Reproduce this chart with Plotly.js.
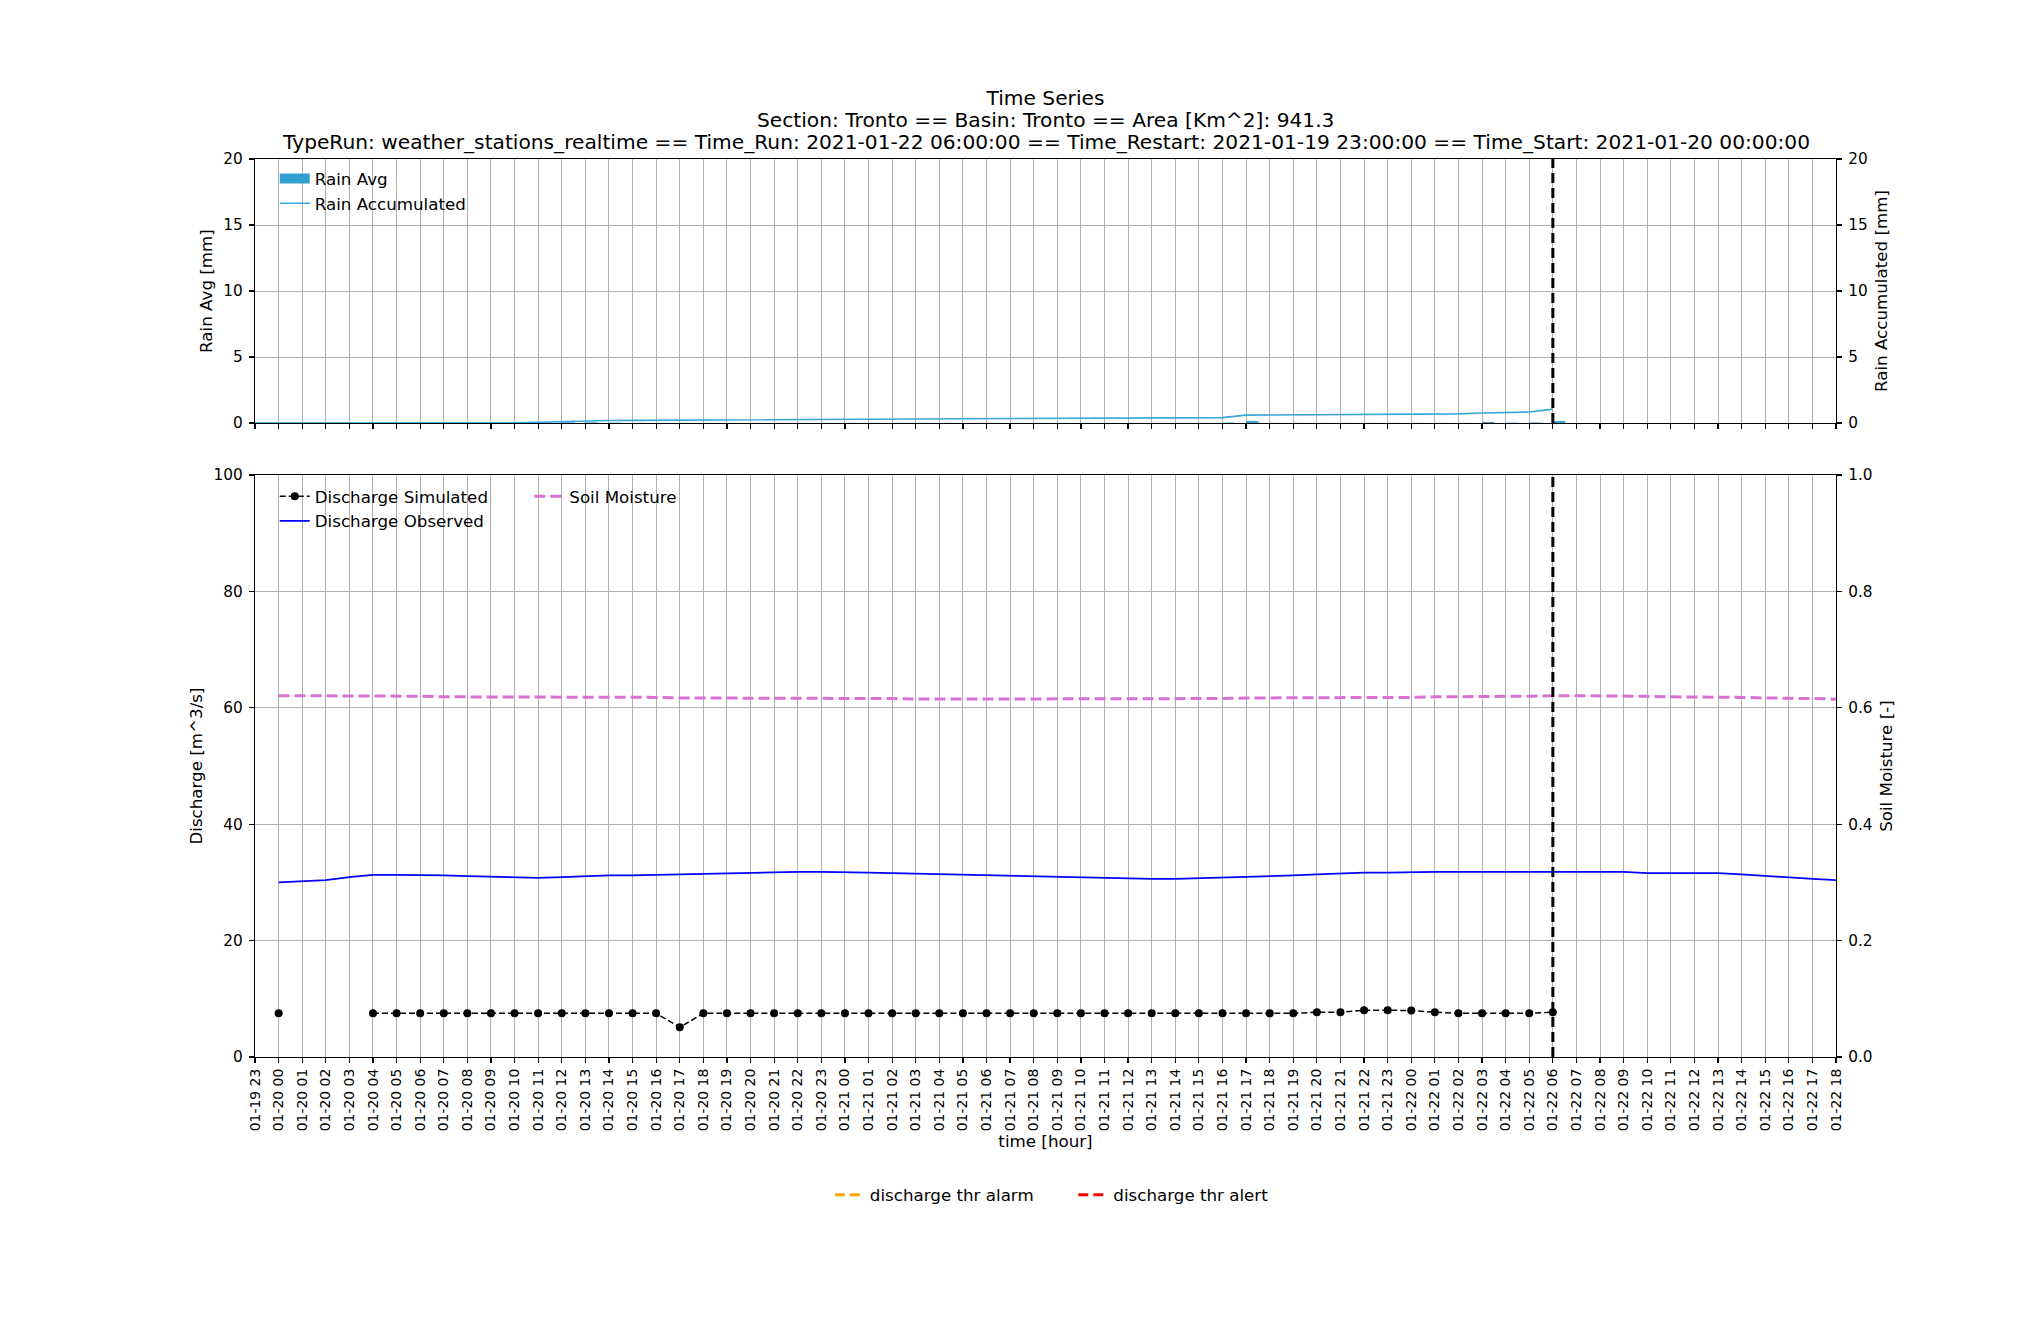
<!DOCTYPE html>
<html>
<head>
<meta charset="utf-8">
<script src="https://cdn.plot.ly/plotly-3.0.1.min.js"></script>
<style>html,body{margin:0;padding:0;background:#fff;}#chart{width:2040px;height:1320px;}</style>
</head>
<body>
<div id="chart"></div>
<script>
const times = [
 '2021-01-19 23:00',
 '2021-01-20 00:00','2021-01-20 01:00','2021-01-20 02:00','2021-01-20 03:00','2021-01-20 04:00','2021-01-20 05:00',
 '2021-01-20 06:00','2021-01-20 07:00','2021-01-20 08:00','2021-01-20 09:00','2021-01-20 10:00','2021-01-20 11:00',
 '2021-01-20 12:00','2021-01-20 13:00','2021-01-20 14:00','2021-01-20 15:00','2021-01-20 16:00','2021-01-20 17:00',
 '2021-01-20 18:00','2021-01-20 19:00','2021-01-20 20:00','2021-01-20 21:00','2021-01-20 22:00','2021-01-20 23:00',
 '2021-01-21 00:00','2021-01-21 01:00','2021-01-21 02:00','2021-01-21 03:00','2021-01-21 04:00','2021-01-21 05:00',
 '2021-01-21 06:00','2021-01-21 07:00','2021-01-21 08:00','2021-01-21 09:00','2021-01-21 10:00','2021-01-21 11:00',
 '2021-01-21 12:00','2021-01-21 13:00','2021-01-21 14:00','2021-01-21 15:00','2021-01-21 16:00','2021-01-21 17:00',
 '2021-01-21 18:00','2021-01-21 19:00','2021-01-21 20:00','2021-01-21 21:00','2021-01-21 22:00','2021-01-21 23:00',
 '2021-01-22 00:00','2021-01-22 01:00','2021-01-22 02:00','2021-01-22 03:00','2021-01-22 04:00','2021-01-22 05:00',
 '2021-01-22 06:00','2021-01-22 07:00','2021-01-22 08:00','2021-01-22 09:00','2021-01-22 10:00','2021-01-22 11:00',
 '2021-01-22 12:00','2021-01-22 13:00','2021-01-22 14:00','2021-01-22 15:00','2021-01-22 16:00','2021-01-22 17:00',
 '2021-01-22 18:00'
];

// Rain Avg [mm] (hourly)
const rainAvg = [
 0,
 0,0,0,0,0,0, 0,0,0,0,0.02,0.04, 0.05,0.05,0.03,0.01,0.01,0.01, 0.01,0.01,0.01,0.01,0.01,0.01,
 0.01,0.01,0.01,0.01,0.01,0.01, 0.01,0.01,0.01,0.01,0.01,0.01, 0.01,0.01,0.01,0.01,0.03,0.15,
 0.01,0.01,0.01,0.01,0.01,0.01, 0.01,0.01,0.01,0.08,0.03,0.04, 0.15,0,0,0,0,0, 0,0,0,0,0,0, 0
];

// Rain Accumulated [mm]
const rainAcc = [
 0,
 0,0,0,0,0,0, 0,0,0,0,0.02,0.06, 0.11,0.16,0.19,0.20,0.21,0.22, 0.23,0.23,0.24,0.25,0.25,0.26,
 0.27,0.28,0.29,0.30,0.31,0.32, 0.33,0.34,0.35,0.35,0.36,0.36, 0.37,0.37,0.37,0.38,0.41,0.60,
 0.61,0.61,0.62,0.63,0.64,0.65, 0.66,0.67,0.69,0.76,0.79,0.83, 1.05,null,null,null,null,null,
 null,null,null,null,null,null, null
];

// Discharge Simulated [m^3/s]
const dischargeSim = [
 null,
 7.5,null,null,null,7.5,7.5, 7.5,7.5,7.5,7.5,7.5,7.5, 7.5,7.5,7.5,7.5,7.5,5.1, 7.5,7.5,7.5,7.5,7.5,7.5,
 7.5,7.5,7.5,7.5,7.5,7.5, 7.5,7.5,7.5,7.5,7.5,7.5, 7.5,7.5,7.5,7.5,7.5,7.5, 7.5,7.5,7.7,7.7,8.05,8.05,
 8.0,7.7,7.5,7.5,7.5,7.5, 7.7,null,null,null,null,null, null,null,null,null,null,null, null
];

// Discharge Observed [m^3/s]
const dischargeObs = [
 null,
 30.0,30.2,30.4,30.9,31.3,31.3, 31.3,31.2,31.1,31.0,30.9,30.8, 30.9,31.1,31.2,31.2,31.3,31.4, 31.5,31.6,31.7,31.8,31.8,31.8,
 31.8,31.7,31.6,31.5,31.4,31.3, 31.2,31.1,31.0,30.9,30.8,30.7, 30.6,30.6,30.6,30.7,30.8,30.9, 31.0,31.2,31.4,31.6,31.7,31.7,
 31.8,31.8,31.8,31.8,31.8,31.8, 31.9,31.9,31.9,31.8,31.6,31.6, 31.6,31.6,31.4,31.1,30.8,30.6, 30.4
];

// Soil Moisture [-]
const soilMoisture = [
 null,
 0.621,0.621,0.621,0.620,0.620,0.620, 0.620,0.619,0.619,0.619,0.619,0.619, 0.619,0.618,0.618,0.618,0.618,0.617, 0.617,0.617,0.617,0.616,0.616,0.616,
 0.616,0.616,0.616,0.615,0.615,0.615, 0.615,0.615,0.615,0.615,0.615,0.615, 0.615,0.615,0.615,0.615,0.616,0.617, 0.617,0.617,0.617,0.617,0.618,0.618,
 0.618,0.619,0.619,0.619,0.620,0.620, 0.621,0.621,0.621,0.620,0.620,0.619, 0.619,0.618,0.618,0.617,0.617,0.616, 0.615
];

// thresholds (not available)
const thrAlarm = [null];
const thrAlert = [null];

const timeRun = '2021-01-22 06:00';

const titleLines = [
  'Time Series',
  'Section: Tronto == Basin: Tronto == Area [Km^2]: 941.3',
  'TypeRun: weather_stations_realtime == Time_Run: 2021-01-22 06:00:00 == Time_Restart: 2021-01-19 23:00:00 == Time_Start: 2021-01-20 00:00:00'
];

const FONT = 'DejaVu Sans, Liberation Sans, sans-serif';
const GRID = '#b0b0b0';
const RAIN_COLOR = '#33a0cf';
const TITLE_FONT = {size:20.2, color:'#000', family:FONT};

const traces = [
  // top panel
  {type:'bar', x: times, y: rainAvg, xaxis:'x2', yaxis:'y3', marker:{color:RAIN_COLOR, line:{width:0}},
   width: 1900000, offset: 0, showlegend:false, name:'Rain Avg'},
  {type:'scatter', mode:'lines', x:[times[0]], y:[null], xaxis:'x2', yaxis:'y3', name:'Rain Avg',
   line:{color:RAIN_COLOR, width:11}, legend:'legend'},
  {type:'scatter', mode:'lines', x: times, y: rainAcc, xaxis:'x2', yaxis:'y4', name:'Rain Accumulated',
   line:{color:'#3aa6d5', width:1.6}, legend:'legend'},
  // bottom panel
  {type:'scatter', mode:'lines+markers', x: times, y: dischargeSim, xaxis:'x', yaxis:'y', name:'Discharge Simulated',
   line:{color:'#000000', width:1.5, dash:'6px,3px'}, marker:{color:'#000000', size:8}, connectgaps:false, legend:'legend2'},
  {type:'scatter', mode:'lines', x: times, y: dischargeObs, xaxis:'x', yaxis:'y', name:'Discharge Observed',
   line:{color:'#0000ff', width:1.8}, legend:'legend2'},
  {type:'scatter', mode:'lines', x: times, y: soilMoisture, xaxis:'x', yaxis:'y2', name:'Soil Moisture',
   line:{color:'#da70d6', width:3, dash:'11px,5px'}, legend:'legend3'},
  {type:'scatter', mode:'lines', x:[times[0]], y: thrAlarm, xaxis:'x', yaxis:'y', name:'discharge thr alarm',
   line:{color:'#ffa500', width:3, dash:'10px,5px'}, legend:'legend4'},
  {type:'scatter', mode:'lines', x:[times[0]], y: thrAlert, xaxis:'x', yaxis:'y', name:'discharge thr alert',
   line:{color:'#ff0000', width:3, dash:'10px,5px'}, legend:'legend5'}
];

const xCommon = {
  type:'date', range:[times[0], times[times.length-1]], tick0: times[0], dtick: 3600000,
  showgrid:true, gridcolor:GRID, gridwidth:1, showline:true, linecolor:'#000', linewidth:1.2, mirror:true,
  ticks:'outside', ticklen:5, tickwidth:1.2, tickcolor:'#000', zeroline:false
};
const yCommon = {
  showline:true, linecolor:'#000', linewidth:1.2, ticks:'outside', ticklen:5, tickwidth:1.2, tickcolor:'#000',
  zeroline:false, tickfont:{size:15.3, color:'#000'}, ticklabelstandoff:3, automargin:true
};
const legendCommon = {bgcolor:'rgba(0,0,0,0)', borderwidth:0, font:{size:16.7, color:'#000', family:FONT},
  xanchor:'left', yanchor:'top', orientation:'v'};
const AXT = {size:16.7, color:'#000'};

const layout = {
  width:2040, height:1320,
  paper_bgcolor:'#fff', plot_bgcolor:'#fff',
  font:{family:FONT, color:'#000'},
  margin:{l:255, r:204, t:159, b:263, pad:0},
  title:{
    text: titleLines[0], font: TITLE_FONT, x:0.5, xref:'paper', xanchor:'center',
    y:0.926, yref:'container', yanchor:'middle'
  },
  annotations:[
    {text: titleLines[1], xref:'paper', yref:'paper', x:0.5, y:1.0434, xanchor:'center', yanchor:'middle',
     showarrow:false, font: TITLE_FONT},
    {text: titleLines[2], xref:'paper', yref:'paper', x:0.5, y:1.0189, xanchor:'center', yanchor:'middle',
     showarrow:false, font: TITLE_FONT}
  ],
  showlegend:true,
  xaxis: Object.assign({}, xCommon, {
    domain:[0,1], anchor:'y', tickformat:'%m-%d %H', tickangle:-90, tickfont:{size:13.9, color:'#000'},
    automargin:true, title:{text:'time [hour]', font:AXT, standoff:5}
  }),
  xaxis2: Object.assign({}, xCommon, {
    domain:[0,1], anchor:'y3', matches:'x', showticklabels:false
  }),
  yaxis: Object.assign({}, yCommon, {
    domain:[0,0.648], range:[0,100], dtick:20, tick0:0, anchor:'x', showgrid:true, gridcolor:GRID,
    title:{text:'Discharge [m^3/s]', font:AXT, standoff:6}
  }),
  yaxis2: Object.assign({}, yCommon, {
    overlaying:'y', side:'right', anchor:'x', range:[0,1], dtick:0.2, tick0:0, tickformat:'.1f', showgrid:false,
    title:{text:'Soil Moisture [-]', font:AXT, standoff:8}
  }),
  yaxis3: Object.assign({}, yCommon, {
    domain:[0.706,1], range:[0,20], dtick:5, tick0:0, anchor:'x2', showgrid:true, gridcolor:GRID,
    title:{text:'Rain Avg [mm]', font:AXT, standoff:6}
  }),
  yaxis4: Object.assign({}, yCommon, {
    overlaying:'y3', side:'right', anchor:'x2', range:[0,20], dtick:5, tick0:0, showgrid:false,
    title:{text:'Rain Accumulated [mm]', font:AXT, standoff:8}
  }),
  legend: Object.assign({}, legendCommon, {x:0.0125, y:0.9975}),
  legend2: Object.assign({}, legendCommon, {x:0.0125, y:0.6438}),
  legend3: Object.assign({}, legendCommon, {x:0.1735, y:0.6438}),
  legend4: Object.assign({}, legendCommon, {x:0.3636, y:-0.134}),
  legend5: Object.assign({}, legendCommon, {x:0.5176, y:-0.134}),
  shapes:[
    {type:'line', xref:'x', yref:'y domain', x0:timeRun, x1:timeRun, y0:0, y1:1, line:{color:'#000', width:3, dash:'10px,5px'}},
    {type:'line', xref:'x2', yref:'y3 domain', x0:timeRun, x1:timeRun, y0:0, y1:1, line:{color:'#000', width:3, dash:'10px,5px'}}
  ]
};

Plotly.newPlot('chart', traces, layout, {displayModeBar:false, staticPlot:true});
</script>
</body>
</html>
